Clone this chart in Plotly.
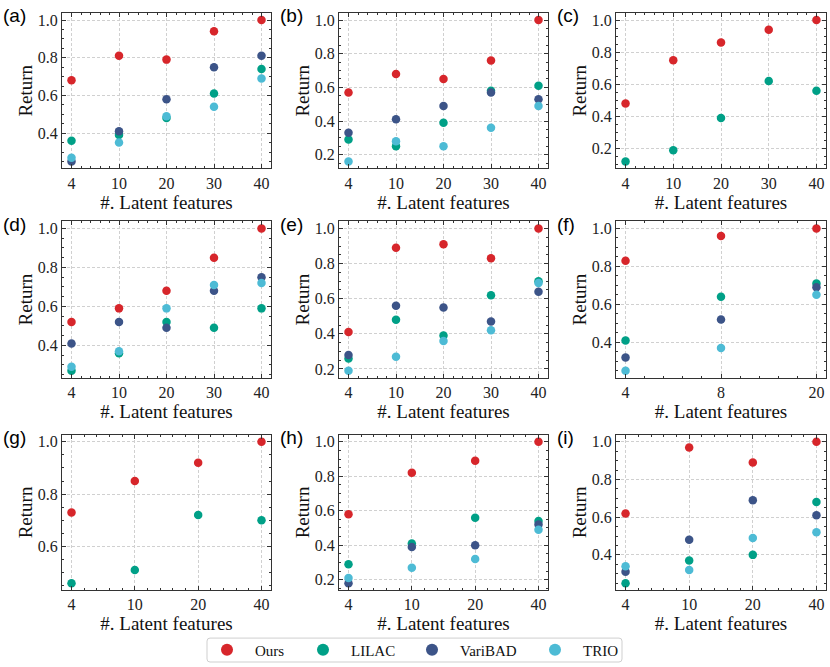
import plotly.graph_objects as go
from plotly.subplots import make_subplots

W, H = 830, 667
SERIF = "Liberation Serif"
SANS = "Liberation Sans"

names = ["Ours", "LILAC", "VariBAD", "TRIO"]
colors = ["#D7262B", "#00A087", "#3C5488", "#4DBBD5"]

# (a)
a_feats = ["4", "10", "20", "30", "40"]
a_ours = [0.68, 0.81, 0.79, 0.94, 1.00]
a_lilac = [0.36, 0.39, 0.48, 0.61, 0.74]
a_varibad = [0.25, 0.41, 0.58, 0.75, 0.81]
a_trio = [0.27, 0.35, 0.49, 0.54, 0.69]
# (b)
b_feats = ["4", "10", "20", "30", "40"]
b_ours = [0.57, 0.68, 0.65, 0.76, 1.00]
b_lilac = [0.29, 0.25, 0.39, 0.58, 0.61]
b_varibad = [0.33, 0.41, 0.49, 0.57, 0.53]
b_trio = [0.16, 0.28, 0.25, 0.36, 0.49]
# (c)
c_feats = ["4", "10", "20", "30", "40"]
c_ours = [0.48, 0.75, 0.86, 0.94, 1.00]
c_lilac = [0.12, 0.19, 0.39, 0.62, 0.56]
# (d)
d_feats = ["4", "10", "20", "30", "40"]
d_ours = [0.52, 0.59, 0.68, 0.85, 1.00]
d_lilac = [0.27, 0.36, 0.52, 0.49, 0.59]
d_varibad = [0.41, 0.52, 0.49, 0.68, 0.75]
d_trio = [0.29, 0.37, 0.59, 0.71, 0.72]
# (e)
e_feats = ["4", "10", "20", "30", "40"]
e_ours = [0.41, 0.89, 0.91, 0.83, 1.00]
e_lilac = [0.26, 0.48, 0.39, 0.62, 0.70]
e_varibad = [0.28, 0.56, 0.55, 0.47, 0.64]
e_trio = [0.19, 0.27, 0.36, 0.42, 0.69]
# (f)
f_feats = ["4", "8", "20"]
f_ours = [0.83, 0.96, 1.00]
f_lilac = [0.41, 0.64, 0.71]
f_varibad = [0.32, 0.52, 0.69]
f_trio = [0.25, 0.37, 0.65]
# (g)
g_feats = ["4", "10", "20", "40"]
g_ours = [0.73, 0.85, 0.92, 1.00]
g_lilac = [0.46, 0.51, 0.72, 0.70]
# (h)
h_feats = ["4", "10", "20", "40"]
h_ours = [0.58, 0.82, 0.89, 1.00]
h_lilac = [0.29, 0.41, 0.56, 0.54]
h_varibad = [0.18, 0.39, 0.40, 0.52]
h_trio = [0.21, 0.27, 0.32, 0.49]
# (i)
i_feats = ["4", "10", "20", "40"]
i_ours = [0.62, 0.97, 0.89, 1.00]
i_lilac = [0.25, 0.37, 0.40, 0.68]
i_varibad = [0.31, 0.48, 0.69, 0.61]
i_trio = [0.34, 0.32, 0.49, 0.52]

panels = [
    ("(a)", a_feats, [a_ours, a_lilac, a_varibad, a_trio]),
    ("(b)", b_feats, [b_ours, b_lilac, b_varibad, b_trio]),
    ("(c)", c_feats, [c_ours, c_lilac, None, None]),
    ("(d)", d_feats, [d_ours, d_lilac, d_varibad, d_trio]),
    ("(e)", e_feats, [e_ours, e_lilac, e_varibad, e_trio]),
    ("(f)", f_feats, [f_ours, f_lilac, f_varibad, f_trio]),
    ("(g)", g_feats, [g_ours, g_lilac, None, None]),
    ("(h)", h_feats, [h_ours, h_lilac, h_varibad, h_trio]),
    ("(i)", i_feats, [i_ours, i_lilac, i_varibad, i_trio]),
]

cols_px = [(62, 271), (339, 548), (616, 826)]
rows_px = [(13, 169), (222, 379), (436, 592)]
legend_ids = ["legend", "legend2", "legend3", "legend4"]
legend_marker_px = [227, 323, 432, 555]
LEG_ITEMW = 46


def px_x(p):
    return p / W


def px_y(p):
    return 1 - p / H


fig = make_subplots(rows=3, cols=3)

AX = "#333333"
GRID = "#d0d0d0"
TICKFONT = dict(family=SERIF, size=16, color="#222222")
TITLEFONT = dict(family=SERIF, size=19, color="#111111")

for k, (label, feats, series) in enumerate(panels):
    r, c = divmod(k, 3)
    pos = list(range(len(feats)))
    allv = []
    for j, vals in enumerate(series):
        if vals is None:
            continue
        allv += vals
        fig.add_trace(
            go.Scatter(
                x=pos, y=vals, mode="markers", name=names[j],
                marker=dict(color=colors[j], size=8.5, line=dict(width=0)),
                legendgroup=names[j], showlegend=(k == 0),
                legend=legend_ids[j],
            ),
            row=r + 1, col=c + 1,
        )
    lo, hi = min(allv), max(allv)
    span = hi - lo
    n = len(feats) - 1
    idx = "" if k == 0 else str(k + 1)
    x0, x1 = cols_px[c]
    yt, yb = rows_px[r]
    fig.layout["xaxis" + idx].update(
        domain=[px_x(x0), px_x(x1)],
        range=[-0.05 * n, n * 1.05],
        tickmode="array", tickvals=pos, ticktext=feats,
        ticks="inside", ticklen=4, tickwidth=1, tickcolor=AX,
        showline=True, linecolor=AX, linewidth=1, mirror="allticks",
        showgrid=True, gridcolor=GRID, griddash="3px,2px", gridwidth=0.8,
        zeroline=False, automargin=False,
        minor=dict(ticks="inside", ticklen=2, tickwidth=0.8, tickcolor=AX,
                   dtick=0.2, tick0=0, showgrid=False),
        tickfont=TICKFONT,
        title=dict(text="#. Latent features", standoff=0, font=TITLEFONT),
    )
    fig.layout["yaxis" + idx].update(
        domain=[px_y(yb), px_y(yt)],
        range=[lo - 0.05 * span, hi + 0.05 * span],
        dtick=0.2, tick0=0, tickformat=".1f",
        ticks="inside", ticklen=4, tickwidth=1, tickcolor=AX,
        showline=True, linecolor=AX, linewidth=1, mirror="allticks",
        showgrid=True, gridcolor=GRID, griddash="3px,2px", gridwidth=0.8,
        zeroline=False, automargin=False,
        minor=dict(ticks="inside", ticklen=2, tickwidth=0.8, tickcolor=AX,
                   dtick=0.05, tick0=0, showgrid=False),
        tickfont=TICKFONT,
        title=dict(text="Return", standoff=0, font=TITLEFONT),
    )
    fig.add_annotation(
        text=label, xref="paper", yref="paper",
        x=px_x(x0 - 61), xanchor="left",
        y=px_y(yt + 3), yanchor="middle",
        showarrow=False, font=dict(family=SANS, size=19, color="#000000"),
    )

# legends (one per method so the spacing follows the reference)
legend_cy = px_y(652)
layout_legends = {}
for j, lid in enumerate(legend_ids):
    layout_legends[lid] = dict(
        x=px_x(legend_marker_px[j] - (5 + LEG_ITEMW / 2)), xanchor="left",
        y=legend_cy, yanchor="middle",
        orientation="h", bgcolor="rgba(0,0,0,0)", borderwidth=0,
        font=dict(family=SERIF, size=15, color="#111111"),
        itemsizing="constant", itemwidth=LEG_ITEMW,
    )
fig.update_layout(**layout_legends)

# legend frame
bx0, bx1 = px_x(207), px_x(622)
by0, by1 = px_y(664), px_y(640)
rx, ry = 3 / W, 3 / H
path = (f"M {bx0+rx},{by0} L {bx1-rx},{by0} Q {bx1},{by0} {bx1},{by0+ry} "
        f"L {bx1},{by1-ry} Q {bx1},{by1} {bx1-rx},{by1} L {bx0+rx},{by1} "
        f"Q {bx0},{by1} {bx0},{by1-ry} L {bx0},{by0+ry} Q {bx0},{by0} {bx0+rx},{by0} Z")
fig.add_shape(type="path", path=path, xref="paper", yref="paper",
              line=dict(color="#cfcfcf", width=1), fillcolor="rgba(255,255,255,0)")

fig.update_layout(
    width=W, height=H,
    margin=dict(l=0, r=0, t=0, b=0),
    paper_bgcolor="white", plot_bgcolor="white",
    font=dict(family=SERIF),
)

fig.write_html(
    "out.html",
    config={"displayModeBar": False},
    post_script="document.body.style.margin='0';document.body.style.overflow='hidden';",
)
